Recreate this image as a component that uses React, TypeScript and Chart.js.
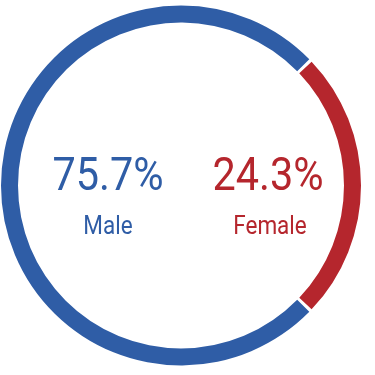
import React, { useEffect, useRef } from "react";
import { Chart, registerables } from "chart.js";

Chart.register(...registerables);

const categories = ["Female", "Male"];
const shares = [24.3, 75.7];
const colors = ["#B5262D", "#2F5DA6"];
const valueLabels = ["24.3%", "75.7%"];

export default function App() {
  const ref = useRef<HTMLCanvasElement | null>(null);

  useEffect(() => {
    document.body.style.margin = "0";
    const femaleSpan = (shares[0] / (shares[0] + shares[1])) * 360;
    const chart = new Chart(ref.current!, {
      type: "doughnut",
      data: {
        labels: categories,
        datasets: [
          {
            data: shares,
            backgroundColor: colors,
            borderWidth: 0,
            spacing: 2,
          },
        ],
      },
      options: {
        animation: false,
        responsive: false,
        cutout: "90.5%",
        rotation: 90 - femaleSpan / 2,
        layout: { padding: { left: 1, right: 14, top: 5, bottom: 9 } },
        plugins: { legend: { display: false }, tooltip: { enabled: false } },
      },
    });
    return () => chart.destroy();
  }, []);

  const font = "Roboto, 'Open Sans', sans-serif";
  const big: React.CSSProperties = {
    position: "absolute",
    top: 146,
    fontFamily: font,
    fontWeight: 400,
    fontSize: 46,
    lineHeight: "56px",
    whiteSpace: "nowrap",
    transform: "translateX(-50%) scaleX(0.9)",
  };
  const small: React.CSSProperties = {
    position: "absolute",
    top: 211,
    fontFamily: font,
    fontWeight: 400,
    fontSize: 25,
    lineHeight: "30px",
    whiteSpace: "nowrap",
    transform: "translateX(-50%) scaleX(0.9)",
  };

  return (
    <div style={{ position: "absolute", left: 0, top: 0, width: 375, height: 375, background: "#fff" }}>
      <canvas ref={ref} width={375} height={375} style={{ display: "block" }} />
      <span style={{ ...big, left: 108, color: colors[1] }}>{valueLabels[1]}</span>
      <span style={{ ...small, left: 108, color: colors[1] }}>{categories[1]}</span>
      <span style={{ ...big, left: 268, color: colors[0] }}>{valueLabels[0]}</span>
      <span style={{ ...small, left: 270, color: colors[0] }}>{categories[0]}</span>
    </div>
  );
}
